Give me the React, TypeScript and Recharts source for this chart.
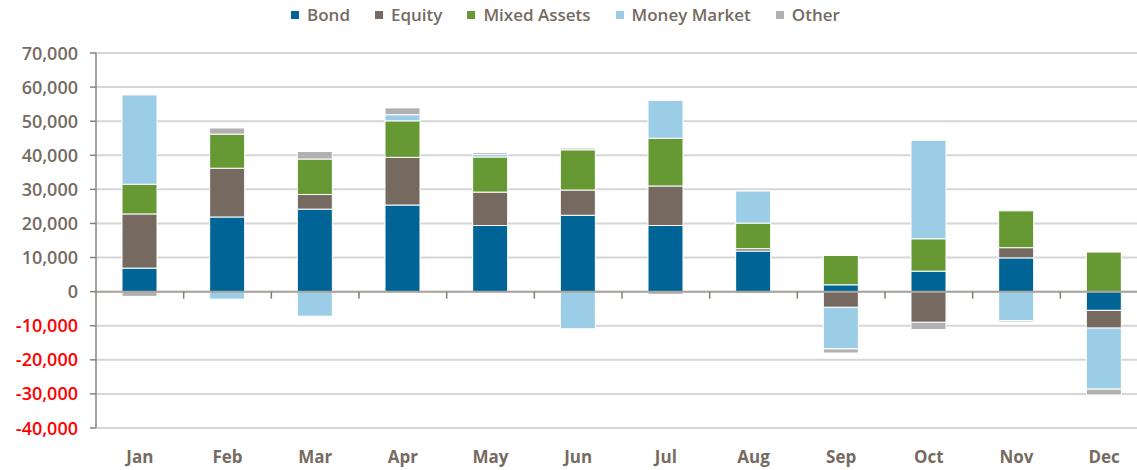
import React from "react";
import { BarChart, Bar, XAxis, YAxis, CartesianGrid, ReferenceLine, Legend } from "recharts";

const months = ["Jan", "Feb", "Mar", "Apr", "May", "Jun", "Jul", "Aug", "Sep", "Oct", "Nov", "Dec"];
const bond = [6900, 21900, 24200, 25400, 19400, 22400, 19400, 11900, 2000, 6000, 9900, -5500];
const equity = [15900, 14300, 4300, 14000, 9800, 7400, 11600, 700, -4600, -9000, 3000, -5200];
const mixedAssets = [8700, 10000, 10400, 10700, 10300, 11800, 14000, 7500, 8600, 9500, 10800, 11600];
const moneyMarket = [26200, -2200, -7200, 1800, 800, -10900, 11100, 9400, -12200, 28900, -8500, -17900];
const other = [-1400, 1800, 2200, 2000, 500, 500, -800, -600, -1200, -2100, -400, -1700];
const yTicks = [-40000, -30000, -20000, -10000, 0, 10000, 20000, 30000, 40000, 50000, 60000, 70000];

const seriesNames = ["Bond", "Equity", "Mixed Assets", "Money Market", "Other"];
const seriesKeys = ["bond", "equity", "mixed", "mm", "other"];
const colors = ["#006496", "#766a60", "#669933", "#9ccde6", "#b1b1b3"];

const data = months.map((m, i) => ({
  month: m,
  bond: bond[i],
  equity: equity[i],
  mixed: mixedAssets[i],
  mm: moneyMarket[i],
  other: other[i],
}));

const FONT = "'Open Sans', sans-serif";
const TEXT = "#756b62";

const CHART_W = 1160;
const CHART_H = 470;
const M_TOP = 53;
const X_H = 42;
const Y_W = 96;
const M_RIGHT = 12;
const PLOT_H = CHART_H - M_TOP - X_H;
const ZERO_Y = M_TOP + (PLOT_H * 70000) / 110000;
const BAND = (CHART_W - Y_W - M_RIGHT) / months.length;

const XTick = (props: any) => {
  const { x, y, payload, index } = props;
  return (
    <g>
      <text x={x} y={y + 27} textAnchor="middle" fontFamily={FONT} fontSize={17} fontWeight={700} fill={TEXT}>
        {payload.value}
      </text>
      {index < months.length - 1 && (
        <line x1={x + BAND / 2} x2={x + BAND / 2} y1={ZERO_Y} y2={ZERO_Y + 7} stroke="#857b72" strokeWidth={1.5} />
      )}
    </g>
  );
};

const YTick = (props: any) => {
  const { y, payload } = props;
  const v = payload.value as number;
  return (
    <text x={78} y={y} dy={6.5} textAnchor="end" fontFamily={FONT} fontSize={18} fontWeight={600} fill={v < 0 ? "#ff0000" : TEXT}>
      {v.toLocaleString("en-US")}
    </text>
  );
};

const LegendContent = () => (
  <div
    style={{
      position: "absolute",
      top: 0,
      left: 0,
      whiteSpace: "nowrap",
      display: "flex",
      alignItems: "center",
      fontFamily: FONT,
      fontSize: 17,
      fontWeight: 600,
      color: TEXT,
    }}
  >
    {seriesNames.map((n, i) => (
      <div key={n} style={{ display: "flex", alignItems: "center", marginRight: 25 }}>
        <span style={{ display: "inline-block", width: 8, height: 8, background: colors[i], marginRight: 8 }} />
        <span>{n}</span>
      </div>
    ))}
  </div>
);

export default function App() {
  return (
    <div style={{ position: "fixed", left: 0, top: 0, width: 1137, height: 470, overflow: "hidden", background: "#fff" }}>
      <BarChart
        width={CHART_W}
        height={CHART_H}
        data={data}
        stackOffset="sign"
        margin={{ top: M_TOP, right: M_RIGHT, bottom: 0, left: 0 }}
      >
        <CartesianGrid vertical={false} stroke="#d6d6d6" strokeWidth={2} />
        <XAxis dataKey="month" height={X_H} axisLine={false} tickLine={false} tick={<XTick />} interval={0} />
        <YAxis
          width={Y_W}
          domain={[-40000, 70000]}
          ticks={yTicks}
          interval={0}
          axisLine={{ stroke: "#8c8279", strokeWidth: 1.5 }}
          tickLine={{ stroke: "#8c8279", strokeWidth: 1.5 }}
          tickSize={6}
          tick={<YTick />}
        />
        <Legend
          verticalAlign="top"
          content={<LegendContent />}
          wrapperStyle={{ position: "absolute", top: 3, left: 291, width: 700, height: 0 }}
        />
        {seriesKeys.map((k, i) => (
          <Bar key={k} dataKey={k} name={seriesNames[i]} stackId="a" fill={colors[i]} stroke="#ffffff" strokeWidth={1} barSize={35} isAnimationActive={false} />
        ))}
        <ReferenceLine y={0} stroke="#aaa49e" strokeWidth={2} />
      </BarChart>
    </div>
  );
}
